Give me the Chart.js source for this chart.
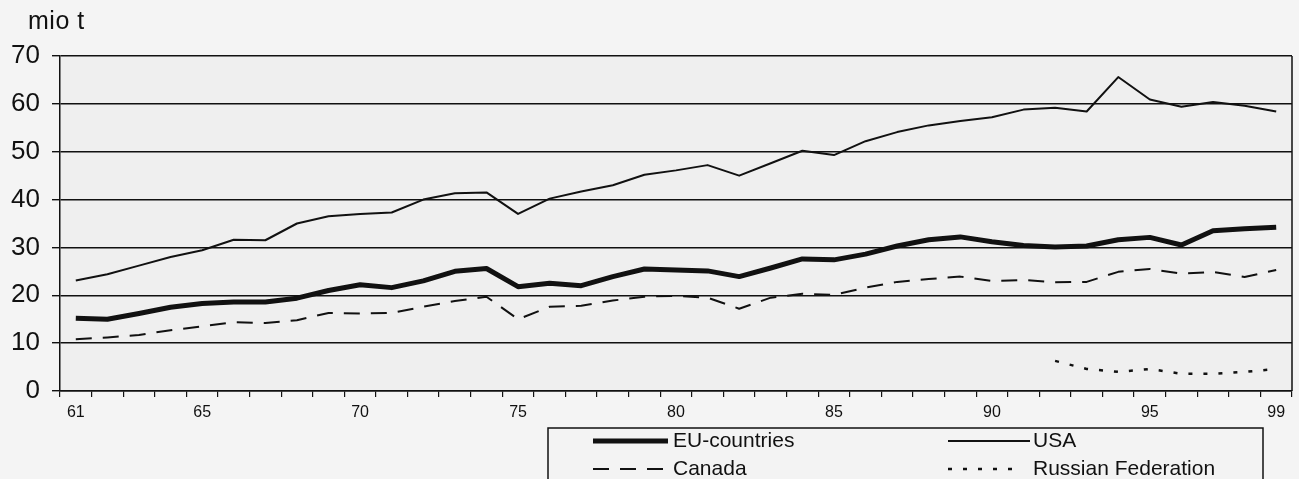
<!DOCTYPE html>
<html>
<head>
<meta charset="utf-8">
<script src="https://cdn.jsdelivr.net/npm/chart.js@4.4.1/dist/chart.umd.min.js"></script>
<style>
  html, body { margin: 0; padding: 0; background: #f4f4f4; }
  #wrap { position: relative; width: 1299px; height: 479px; overflow: hidden; }
  #unit { position: absolute; left: 28px; top: 6px; font-family: "Liberation Sans", Arial, sans-serif; font-size: 25px; color: #111; letter-spacing: 0.5px; }
  canvas { position: absolute; left: 0; top: 0; }
</style>
</head>
<body>
<div id="wrap">
  <canvas id="c" width="1299" height="479"></canvas>
  <div id="unit">mio t</div>
</div>
<script>
const years = ["61","62","63","64","65","66","67","68","69","70","71","72","73","74","75","76","77","78","79","80",
               "81","82","83","84","85","86","87","88","89","90","91","92","93","94","95","96","97","98","99"];
const shownYearLabels = ["61","65","70","75","80","85","90","95","99"];
const yTicks = [0, 10, 20, 30, 40, 50, 60, 70];

const euCountries = [15.2,15.0,16.2,17.5,18.3,18.6,18.6,19.4,21.0,22.2,21.6,23.0,25.0,25.6,21.8,22.5,22.0,23.9,25.5,25.3,
                     25.1,23.9,25.7,27.6,27.4,28.6,30.3,31.6,32.2,31.2,30.4,30.1,30.3,31.6,32.1,30.5,33.5,33.9,34.2];
const usa = [23.1,24.4,26.2,28.0,29.4,31.6,31.5,35.0,36.5,37.0,37.3,40.0,41.3,41.5,37.0,40.2,41.7,43.0,45.2,46.1,
             47.2,45.0,47.6,50.2,49.3,52.2,54.1,55.5,56.4,57.2,58.8,59.2,58.4,65.6,60.9,59.4,60.4,59.6,58.4];
const canada = [10.8,11.2,11.7,12.7,13.5,14.4,14.2,14.8,16.3,16.2,16.3,17.6,18.8,19.7,15.0,17.6,17.8,18.9,19.7,19.9,
                19.5,17.2,19.5,20.3,20.1,21.6,22.8,23.4,23.9,23.0,23.2,22.7,22.8,24.9,25.5,24.5,24.9,23.8,25.3];
const russianFederation = [null,null,null,null,null,null,null,null,null,null,null,null,null,null,null,null,null,null,null,null,
                           null,null,null,null,null,null,null,null,null,null,null,6.3,4.6,4.0,4.6,3.6,3.6,4.0,4.6];

const FONT = '"Liberation Sans", Arial, sans-serif';

const plotBg = {
  id: 'plotBg',
  beforeDraw(chart) {
    const {ctx, chartArea: a} = chart;
    ctx.save();
    ctx.fillStyle = '#efefef';
    ctx.fillRect(a.left, a.top, a.right - a.left, a.bottom - a.top);
    ctx.restore();
  },
  afterDraw(chart) {
    const {ctx, chartArea: a} = chart;
    ctx.save();
    ctx.strokeStyle = '#111';
    ctx.lineWidth = 1.5;
    ctx.beginPath();
    ctx.moveTo(a.right, a.top);
    ctx.lineTo(a.right, a.bottom);
    ctx.stroke();
    ctx.restore();
  }
};

const boxLegend = {
  id: 'boxLegend',
  afterDraw(chart) {
    const ctx = chart.ctx;
    ctx.save();
    ctx.fillStyle = '#f3f3f3';
    ctx.fillRect(548, 428, 715, 60);
    ctx.strokeStyle = '#111';
    ctx.lineWidth = 1.5;
    ctx.strokeRect(548, 428, 715, 60);
    const colSample = [[593, 668], [948, 1030]];
    const colText = [673, 1033];
    const rowY = [441, 469];
    ctx.font = '21px ' + FONT;
    ctx.textBaseline = 'middle';
    ctx.fillStyle = '#111';
    chart.data.datasets.forEach((ds, i) => {
      const col = i % 2, row = Math.floor(i / 2);
      const y = rowY[row];
      ctx.beginPath();
      ctx.setLineDash(ds.borderDash || []);
      ctx.lineWidth = ds.borderWidth;
      ctx.strokeStyle = ds.borderColor;
      ctx.moveTo(colSample[col][0], y);
      ctx.lineTo(i === 3 ? 1020 : colSample[col][1], y);
      ctx.stroke();
      ctx.setLineDash([]);
      ctx.fillText(ds.label, colText[col], y);
    });
    ctx.restore();
  }
};

new Chart(document.getElementById('c'), {
  type: 'line',
  data: {
    labels: years,
    datasets: [
      { label: 'EU-countries', data: euCountries, borderColor: '#111', borderWidth: 5 },
      { label: 'USA', data: usa, borderColor: '#111', borderWidth: 2 },
      { label: 'Canada', data: canada, borderColor: '#111', borderWidth: 2, borderDash: [16, 11] },
      { label: 'Russian Federation', data: russianFederation, borderColor: '#111', borderWidth: 2.5, borderDash: [4, 11] }
    ]
  },
  options: {
    responsive: false,
    animation: false,
    layout: { padding: { top: 56, right: 7, left: 0, bottom: 0 } },
    elements: { point: { radius: 0 }, line: { tension: 0, borderCapStyle: 'butt', borderJoinStyle: 'round' } },
    plugins: { legend: { display: false }, tooltip: { enabled: false } },
    scales: {
      x: {
        offset: true,
        afterFit(s) { s.height = 88; },
        grid: { display: true, drawOnChartArea: false, drawTicks: true, tickLength: 6, color: '#111', lineWidth: 1.2, offset: true },
        border: { display: true, color: '#111', width: 1.5 },
        ticks: {
          autoSkip: false, maxRotation: 0, minRotation: 0, padding: 6,
          color: '#111', font: { family: FONT, size: 16 },
          callback(v, i) { const l = years[i]; return shownYearLabels.includes(l) ? l : ''; }
        }
      },
      y: {
        min: 0, max: 70,
        afterFit(s) { s.width = 60; },
        afterBuildTicks(s) { s.ticks = yTicks.map(v => ({ value: v })); },
        grid: { color: '#111', lineWidth: 1.4, tickLength: 8, drawTicks: true },
        border: { display: true, color: '#111', width: 1.5 },
        ticks: { padding: 12, color: '#111', font: { family: FONT, size: 26 } }
      }
    }
  },
  plugins: [plotBg, boxLegend]
});
</script>
</body>
</html>
